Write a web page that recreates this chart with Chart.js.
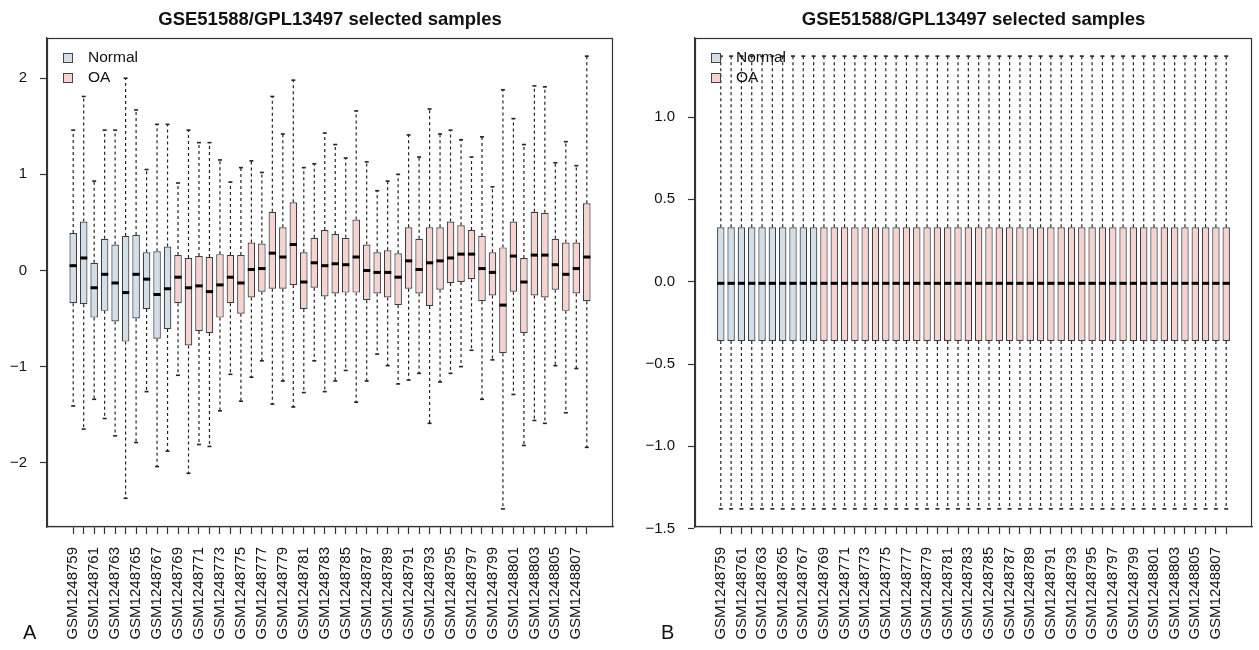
<!DOCTYPE html>
<html>
<head>
<meta charset="utf-8">
<script src="https://cdn.jsdelivr.net/npm/chart.js@4.4.1/dist/chart.umd.min.js"></script>
<style>
html,body{margin:0;padding:0;background:#fff;width:1259px;height:650px;overflow:hidden;}
#wrap{position:relative;width:1259px;height:650px;background:#fff;}
canvas{position:absolute;top:0;}
#cA{left:0;}
#cB{left:629px;}
.tag{position:absolute;font-family:"Liberation Sans",Arial,sans-serif;font-size:20px;line-height:1;color:#111;}
</style>
</head>
<body>
<div id="wrap">
<canvas id="cA" width="629" height="650"></canvas>
<canvas id="cB" width="630" height="650"></canvas>
<div class="tag" style="left:23px;top:622px">A</div>
<div class="tag" style="left:661px;top:622px">B</div>
</div>
<script>
// ---------- data ----------
const titleText = "GSE51588/GPL13497 selected samples";
const samples = ["GSM1248759","GSM1248760","GSM1248761","GSM1248762","GSM1248763","GSM1248764","GSM1248765","GSM1248766","GSM1248767","GSM1248768",
"GSM1248769","GSM1248770","GSM1248771","GSM1248772","GSM1248773","GSM1248774","GSM1248775","GSM1248776","GSM1248777","GSM1248778",
"GSM1248779","GSM1248780","GSM1248781","GSM1248782","GSM1248783","GSM1248784","GSM1248785","GSM1248786","GSM1248787","GSM1248788",
"GSM1248789","GSM1248790","GSM1248791","GSM1248792","GSM1248793","GSM1248794","GSM1248795","GSM1248796","GSM1248797","GSM1248798",
"GSM1248799","GSM1248800","GSM1248801","GSM1248802","GSM1248803","GSM1248804","GSM1248805","GSM1248806","GSM1248807","GSM1248808"];
const groupNames = ["Normal","OA"];
const groups = ["Normal","Normal","Normal","Normal","Normal","Normal","Normal","Normal","Normal","Normal",
"OA","OA","OA","OA","OA","OA","OA","OA","OA","OA","OA","OA","OA","OA","OA","OA","OA","OA","OA","OA",
"OA","OA","OA","OA","OA","OA","OA","OA","OA","OA","OA","OA","OA","OA","OA","OA","OA","OA","OA","OA"];

// Panel A (raw)
const maxA = [1.46,1.81,0.93,1.46,1.46,2.00,1.67,1.05,1.52,1.52, 0.91,1.46,1.33,1.33,1.15,0.92,1.07,1.14,1.02,1.81,
              1.42,1.98,1.07,1.11,1.43,1.31,1.17,1.66,1.13,0.83, 0.93,1.00,1.41,1.18,1.68,1.42,1.46,1.36,1.18,1.39,
              0.87,1.88,1.58,1.31,1.92,1.91,1.12,1.34,1.09,2.23];
const q3A  = [0.39,0.51,0.08,0.33,0.27,0.36,0.37,0.19,0.20,0.25, 0.16,0.13,0.15,0.14,0.17,0.16,0.16,0.29,0.28,0.61,
              0.45,0.71,0.19,0.34,0.42,0.38,0.34,0.53,0.27,0.19, 0.21,0.18,0.45,0.33,0.45,0.45,0.51,0.47,0.42,0.36,
              0.19,0.24,0.51,0.13,0.61,0.60,0.33,0.29,0.29,0.70];
const medA = [0.05,0.13,-0.18,-0.04,-0.13,-0.23,-0.04,-0.09,-0.25,-0.19, -0.07,-0.18,-0.16,-0.22,-0.15,-0.07,-0.13,0.01,0.02,0.18,
              0.14,0.27,-0.12,0.08,0.05,0.07,0.06,0.14,0.00,-0.02, -0.02,-0.07,0.10,0.01,0.08,0.10,0.13,0.17,0.17,0.02,
              -0.02,-0.36,0.15,-0.12,0.16,0.16,0.06,-0.04,0.02,0.14];
const q1A  = [-0.34,-0.35,-0.49,-0.42,-0.53,-0.74,-0.50,-0.40,-0.71,-0.61, -0.34,-0.78,-0.63,-0.65,-0.49,-0.34,-0.45,-0.28,-0.22,-0.19,
              -0.19,-0.15,-0.40,-0.18,-0.27,-0.24,-0.23,-0.23,-0.31,-0.24, -0.28,-0.36,-0.19,-0.24,-0.37,-0.20,-0.13,-0.12,-0.09,-0.32,
              -0.26,-0.86,-0.22,-0.65,-0.26,-0.28,-0.20,-0.42,-0.24,-0.32];
const minA = [-1.41,-1.65,-1.34,-1.54,-1.72,-2.37,-1.79,-1.26,-2.04,-1.88, -1.09,-2.11,-1.81,-1.83,-1.46,-1.08,-1.36,-1.11,-0.94,-1.39,
              -1.15,-1.42,-1.27,-0.94,-1.26,-1.15,-1.04,-1.37,-1.15,-0.87, -0.99,-1.18,-1.14,-1.07,-1.59,-1.16,-1.07,-1.00,-0.83,-1.34,
              -0.93,-2.48,-1.29,-1.82,-1.56,-1.59,-0.99,-1.48,-1.02,-1.84];

// Panel B (normalized)
const maxB = [1.37,1.37,1.37,1.37,1.37,1.37,1.37,1.37,1.37,1.37, 1.37,1.37,1.37,1.37,1.37,1.37,1.37,1.37,1.37,1.37,
              1.37,1.37,1.37,1.37,1.37,1.37,1.37,1.37,1.37,1.37, 1.37,1.37,1.37,1.37,1.37,1.37,1.37,1.37,1.37,1.37,
              1.37,1.37,1.37,1.37,1.37,1.37,1.37,1.37,1.37,1.37];
const q3B  = [0.33,0.33,0.33,0.33,0.33,0.33,0.33,0.33,0.33,0.33, 0.33,0.33,0.33,0.33,0.33,0.33,0.33,0.33,0.33,0.33,
              0.33,0.33,0.33,0.33,0.33,0.33,0.33,0.33,0.33,0.33, 0.33,0.33,0.33,0.33,0.33,0.33,0.33,0.33,0.33,0.33,
              0.33,0.33,0.33,0.33,0.33,0.33,0.33,0.33,0.33,0.33];
const medB = [-0.01,-0.01,-0.01,-0.01,-0.01,-0.01,-0.01,-0.01,-0.01,-0.01, -0.01,-0.01,-0.01,-0.01,-0.01,-0.01,-0.01,-0.01,-0.01,-0.01,
              -0.01,-0.01,-0.01,-0.01,-0.01,-0.01,-0.01,-0.01,-0.01,-0.01, -0.01,-0.01,-0.01,-0.01,-0.01,-0.01,-0.01,-0.01,-0.01,-0.01,
              -0.01,-0.01,-0.01,-0.01,-0.01,-0.01,-0.01,-0.01,-0.01,-0.01];
const q1B  = [-0.36,-0.36,-0.36,-0.36,-0.36,-0.36,-0.36,-0.36,-0.36,-0.36, -0.36,-0.36,-0.36,-0.36,-0.36,-0.36,-0.36,-0.36,-0.36,-0.36,
              -0.36,-0.36,-0.36,-0.36,-0.36,-0.36,-0.36,-0.36,-0.36,-0.36, -0.36,-0.36,-0.36,-0.36,-0.36,-0.36,-0.36,-0.36,-0.36,-0.36,
              -0.36,-0.36,-0.36,-0.36,-0.36,-0.36,-0.36,-0.36,-0.36,-0.36];
const minB = [-1.38,-1.38,-1.38,-1.38,-1.38,-1.38,-1.38,-1.38,-1.38,-1.38, -1.38,-1.38,-1.38,-1.38,-1.38,-1.38,-1.38,-1.38,-1.38,-1.38,
              -1.38,-1.38,-1.38,-1.38,-1.38,-1.38,-1.38,-1.38,-1.38,-1.38, -1.38,-1.38,-1.38,-1.38,-1.38,-1.38,-1.38,-1.38,-1.38,-1.38,
              -1.38,-1.38,-1.38,-1.38,-1.38,-1.38,-1.38,-1.38,-1.38,-1.38];

const yTicksA = [-2, -1, 0, 1, 2];
const yLabelsA = ["\u22122", "\u22121", "0", "1", "2"];
const yTicksB = [-1.5, -1.0, -0.5, 0.0, 0.5, 1.0];
const yLabelsB = ["\u22121.5", "\u22121.0", "\u22120.5", "0.0", "0.5", "1.0"];

// ---------- styles ----------
const FONT = '"Liberation Sans", Arial, Helvetica, sans-serif';
const fillOf = { "Normal": "#d3dee7", "OA": "#f6d3ce" };
const INK = "#222";
Chart.defaults.font.family = FONT;

const framePlugin = {
  id: 'frame',
  afterDraw(chart) {
    const { ctx, chartArea: a } = chart;
    ctx.save();
    ctx.strokeStyle = '#333';
    ctx.lineWidth = 1.2;
    const l = Math.round(a.left) + 0.5, t = Math.round(a.top) + 0.5;
    const r = Math.round(a.right) - 0.5, b = Math.round(a.bottom) - 0.5;
    ctx.strokeRect(l, t, r - l, b - t);
    ctx.restore();
  }
};

const boxLegend = {
  id: 'boxLegend',
  afterDatasetsDraw(chart) {
    const { ctx, chartArea: a } = chart;
    ctx.save();
    ctx.font = '15.5px ' + FONT;
    ctx.textBaseline = 'middle';
    ctx.textAlign = 'left';
    groupNames.forEach((g, k) => {
      const cy = Math.round(a.top + 19 + k * 20);
      const x = Math.round(a.left + 16);
      ctx.fillStyle = fillOf[g];
      ctx.fillRect(x, cy - 4, 10, 10);
      ctx.strokeStyle = '#444';
      ctx.lineWidth = 1;
      ctx.strokeRect(x + 0.5, cy - 3.5, 9, 9);
      ctx.fillStyle = '#111';
      ctx.fillText(g, a.left + 41, cy + 1);
    });
    ctx.restore();
  }
};

function makeChart(id, d) {
  const n = samples.length;
  const xs = samples.map((_, i) => i + 1);
  const lo = Math.min(...d.min), hi = Math.max(...d.max);
  const ext = 0.04 * (hi - lo);
  const whisk = [], caps = [], meds = [];
  xs.forEach((x, i) => {
    whisk.push({ x, y: d.q3[i] }, { x, y: d.max[i] }, { x, y: null },
               { x, y: d.q1[i] }, { x, y: d.min[i] }, { x, y: null });
    caps.push({ x, y: d.max[i] }, { x, y: d.min[i] });
    meds.push({ x, y: d.med[i] });
  });
  const boxes = xs.map((x, i) => ({ x, y: [d.q1[i], d.q3[i]] }));

  return new Chart(document.getElementById(id), {
    type: 'bar',
    data: {
      datasets: [
        { type: 'line', data: whisk, borderColor: INK, borderWidth: 1.2, borderDash: [3, 3],
          pointRadius: 0, spanGaps: false, tension: 0, order: 4 },
        { type: 'bar', data: boxes, backgroundColor: groups.map(g => fillOf[g]),
          borderColor: '#384046', borderWidth: 1.2, borderSkipped: false,
          barPercentage: 0.72, categoryPercentage: 1, order: 3 },
        { type: 'line', data: caps, showLine: false, pointStyle: 'line', pointRadius: 2,
          pointBorderWidth: 1.6, pointBorderColor: '#222', pointBackgroundColor: '#222', order: 2 },
        { type: 'line', data: meds, showLine: false, pointStyle: 'line', pointRadius: 3.6,
          pointBorderWidth: 3, pointBorderColor: '#000', pointBackgroundColor: '#000', order: 1 }
      ]
    },
    options: {
      responsive: false,
      animation: false,
      devicePixelRatio: 1,
      events: [],
      layout: { padding: { left: 0, right: d.padR, top: 0, bottom: 0 } },
      plugins: {
        legend: { display: false },
        tooltip: { enabled: false },
        title: {
          display: true, text: titleText, fullSize: false, color: '#111',
          font: { family: FONT, size: 18.5, weight: 'bold', lineHeight: 1.2 },
          padding: { top: 9, bottom: 6.8 }
        }
      },
      scales: {
        x: {
          type: 'linear',
          min: 0.5 - 0.04 * n,
          max: n + 0.5 + 0.04 * n,
          offset: false,
          afterBuildTicks: s => { s.ticks = xs.map(v => ({ value: v })); },
          afterFit: s => { s.height = 123; },
          grid: { drawOnChartArea: false, drawTicks: true, tickLength: 7, tickColor: '#333', tickWidth: 1.2, offset: false },
          border: { display: true, color: '#333', width: 1.2 },
          ticks: {
            autoSkip: false, maxRotation: 90, minRotation: 90, padding: 13,
            color: '#111', font: { family: FONT, size: 15 },
            callback: (v, i) => (i % 2 === 0 ? samples[i] : '')
          }
        },
        y: {
          type: 'linear',
          min: lo - ext,
          max: hi + ext,
          afterBuildTicks: s => { s.ticks = d.yTicks.map(v => ({ value: v })); },
          afterFit: s => { s.width = d.axisW; },
          grid: { drawOnChartArea: false, drawTicks: true, tickLength: 7, tickColor: '#333', tickWidth: 1.2 },
          border: { display: true, color: '#333', width: 1.2 },
          ticks: {
            padding: 13, color: '#111', font: { family: FONT, size: 15 },
            callback: (v, i) => d.yLabels[i]
          }
        }
      }
    },
    plugins: [boxLegend, framePlugin]
  });
}

makeChart('cA', { min: minA, q1: q1A, med: medA, q3: q3A, max: maxA,
                  yTicks: yTicksA, yLabels: yLabelsA, axisW: 47, padR: 16 });
makeChart('cB', { min: minB, q1: q1B, med: medB, q3: q3B, max: maxB,
                  yTicks: yTicksB, yLabels: yLabelsB, axisW: 66, padR: 3 });
</script>
</body>
</html>
